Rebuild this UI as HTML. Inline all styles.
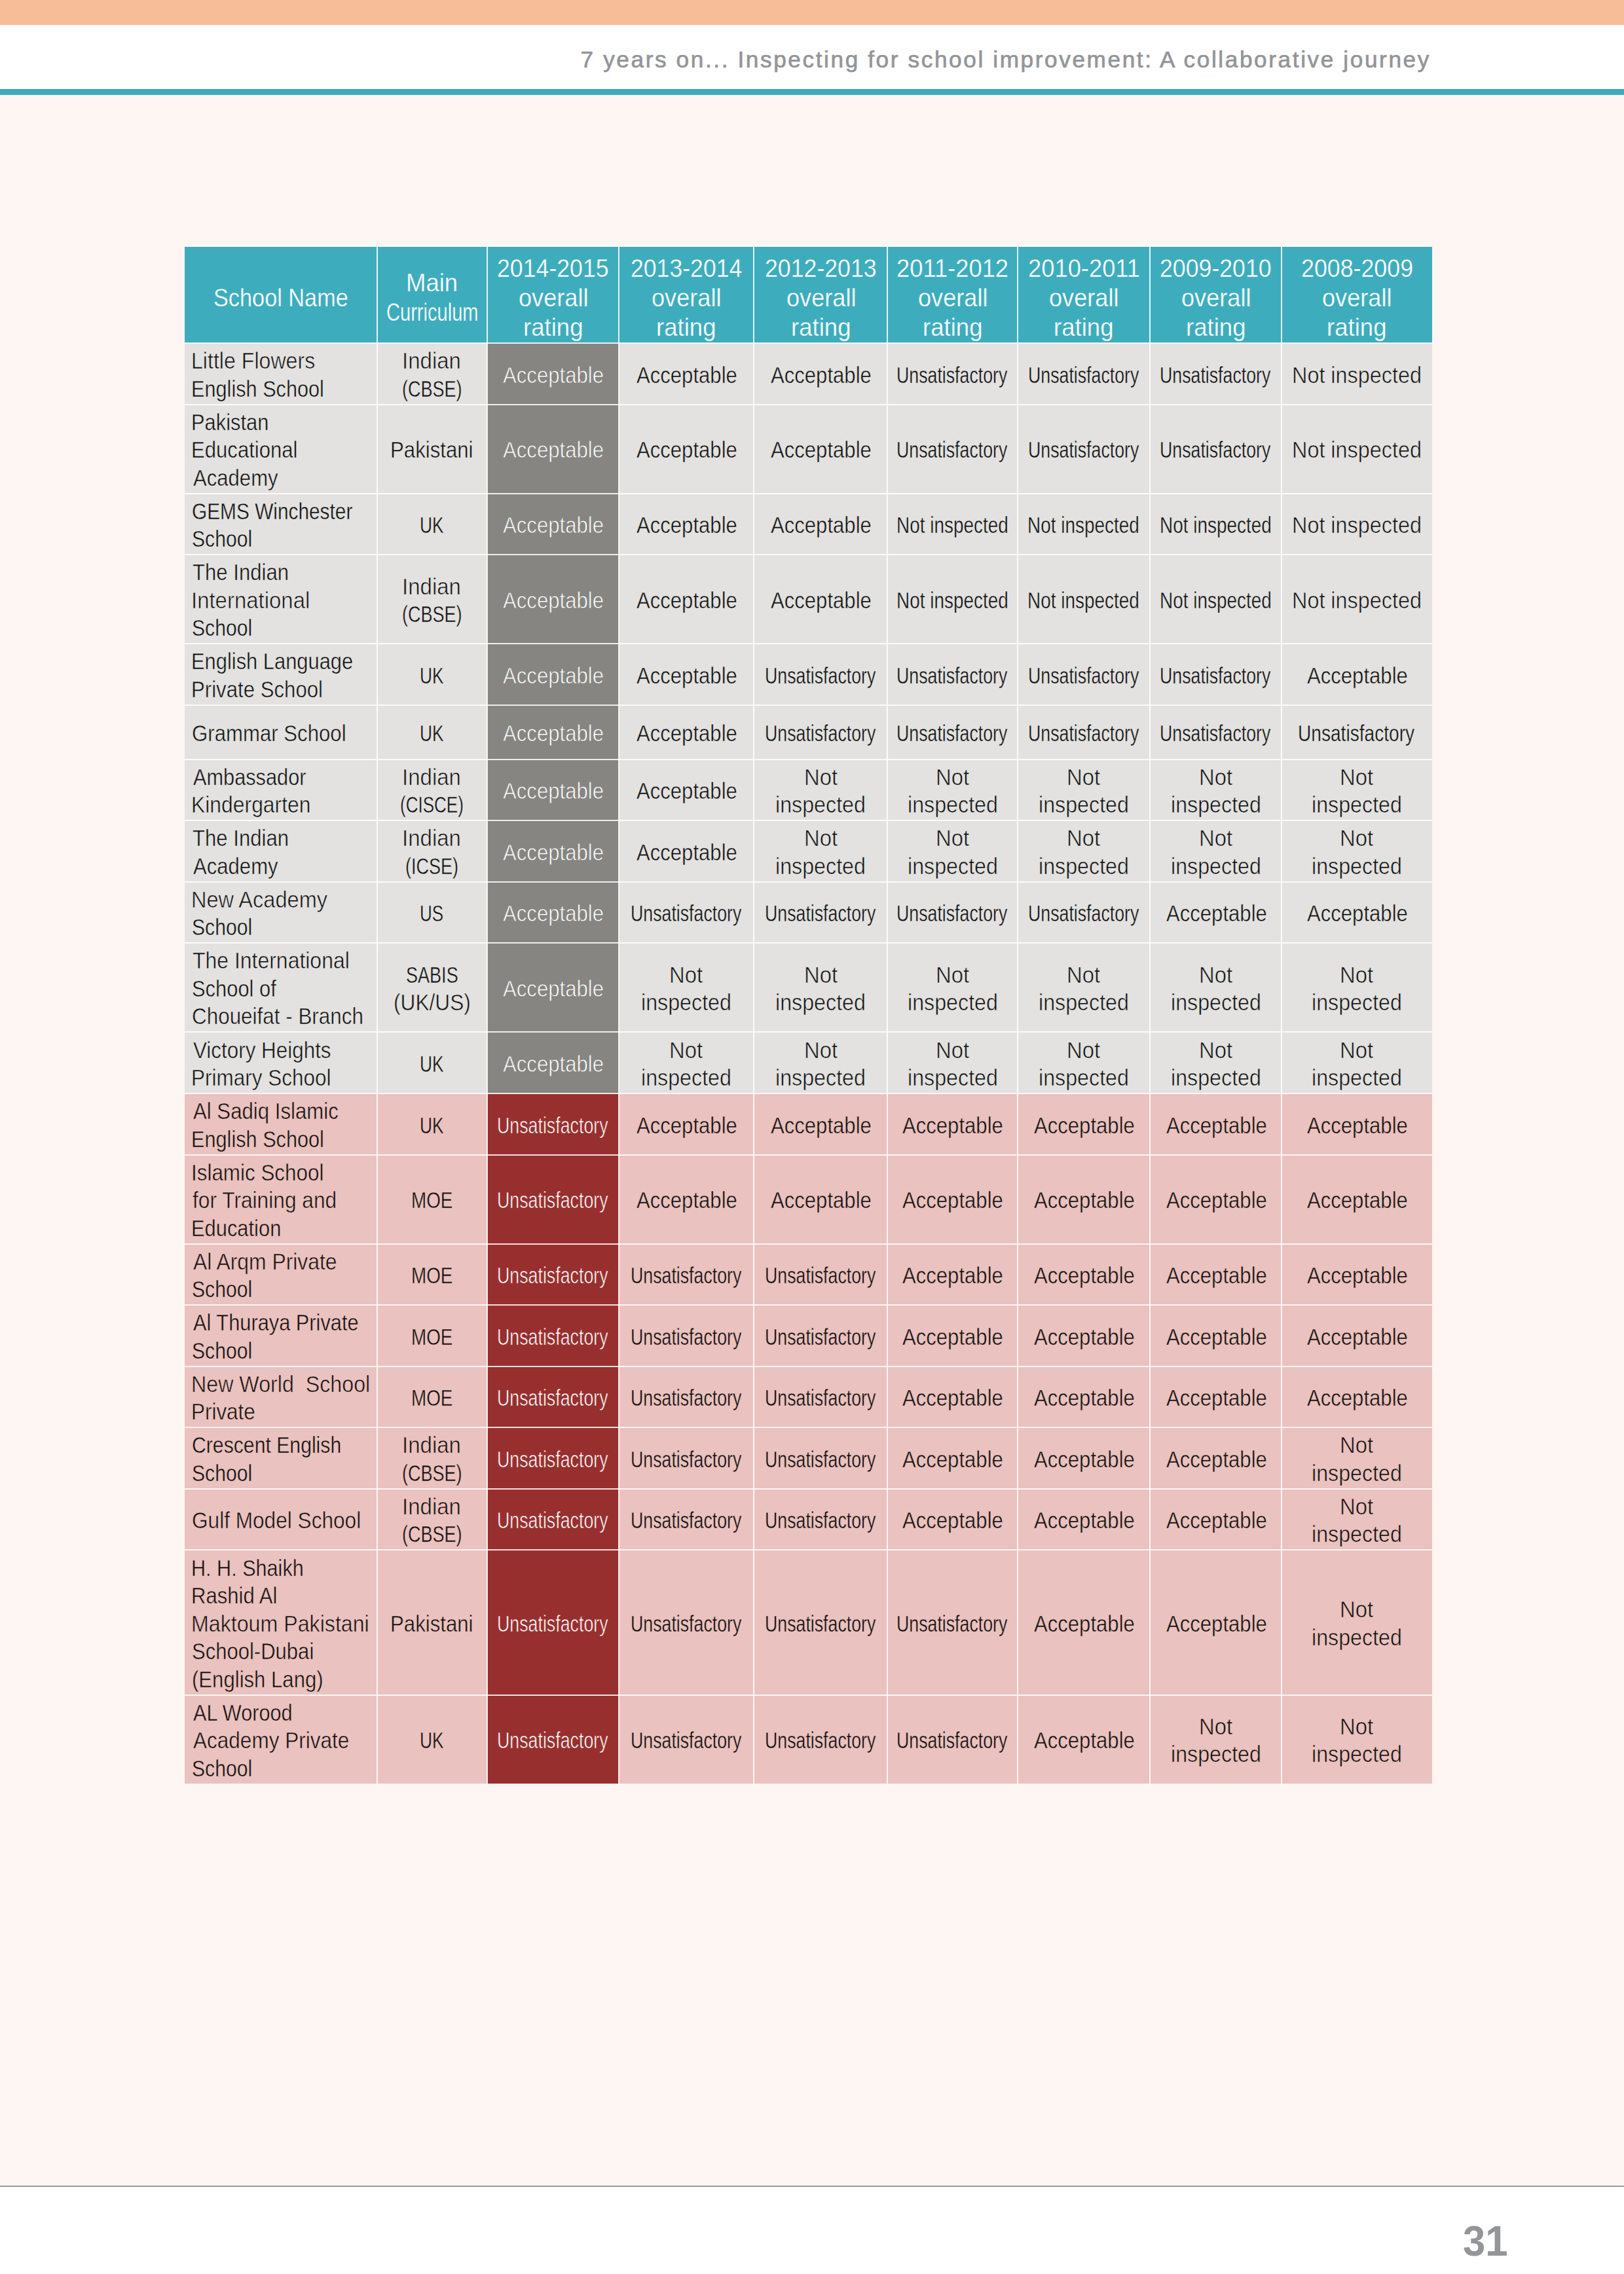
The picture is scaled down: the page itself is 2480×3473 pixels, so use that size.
<!DOCTYPE html><html lang="en"><head><meta charset="utf-8"><title>Page 31</title><style>
html,body{margin:0;padding:0;overflow:hidden}
body{width:2480px;height:3473px;position:relative;overflow:hidden;background:#fef6f3;font-family:"Liberation Sans",sans-serif;color:#121212}
.top{position:absolute;left:0;top:0;width:100%;height:37.7px;background:#f7bc98}
.hd{position:absolute;left:0;top:37.7px;width:100%;height:98.5px;background:#fff}
.rule{position:absolute;left:0;top:136.2px;width:100%;height:8.4px;background:#3dacbc}
.ft{position:absolute;left:0;top:3339.5px;width:100%;height:140px;background:#fff}
.fl{position:absolute;left:0;top:3338px;width:100%;height:1.6px;background:#9a9a9c}
.c{position:absolute;box-sizing:border-box}
.h{background:#3dadbd;color:#fff;-webkit-text-stroke:0.3px #3dadbd}
.g{background:#e3e2e0;-webkit-text-stroke:1.0px #e3e2e0} .gd{background:#868581;color:#fff;-webkit-text-stroke:1.0px #868581}
.p{background:#eac2bf;-webkit-text-stroke:1.0px #eac2bf} .pd{background:#982f2f;color:#fff;-webkit-text-stroke:1.0px #982f2f}
.t{position:absolute;white-space:pre;display:block;transform-origin:0 0;font-size:35.9px;line-height:42.5px}
.h .t{font-size:38.5px;line-height:45.0px}
.ln{position:absolute;background:#fff;opacity:.85}
.title{position:absolute;white-space:pre;color:#939598;transform-origin:0 0}
.pn{position:absolute;white-space:pre;color:#939598;font-weight:bold;transform-origin:0 0}
</style></head><body><div class="top"></div><div class="hd"></div><div class="rule"></div><div class="title" style="left:886.59px;top:70.08px;font-size:35.2px;line-height:42.24px;letter-spacing:2.603px;-webkit-text-stroke:0.7px #939598">7 years on... Inspecting for school improvement: A collaborative journey</div><div class="tbl"><div class="c h" style="left:281.5px;top:376.5px;width:294.0px;height:147.5px"><span class="t" style="top:55.41px;left:44.55px;transform:scaleX(0.8904);-webkit-text-stroke-width:0.30px">School Name</span></div>
<div class="c h" style="left:575.5px;top:376.5px;width:168.0px;height:147.5px"><span class="t" style="top:32.91px;left:44.49px;transform:scaleX(0.9486);-webkit-text-stroke-width:0.30px">Main</span><span class="t" style="top:77.91px;left:14.43px;transform:scaleX(0.7550);-webkit-text-stroke-width:0.30px">Curriculum</span></div>
<div class="c h" style="left:743.5px;top:376.5px;width:201.0px;height:147.5px"><span class="t" style="top:10.41px;left:15.43px;transform:scaleX(0.9269);-webkit-text-stroke-width:0.30px">2014-2015</span><span class="t" style="top:55.41px;left:48.16px;transform:scaleX(0.9388);-webkit-text-stroke-width:0.30px">overall</span><span class="t" style="top:100.41px;left:55.16px;transform:scaleX(0.9505);-webkit-text-stroke-width:0.30px">rating</span></div>
<div class="c h" style="left:944.5px;top:376.5px;width:206.5px;height:147.5px"><span class="t" style="top:10.41px;left:18.18px;transform:scaleX(0.9249);-webkit-text-stroke-width:0.30px">2013-2014</span><span class="t" style="top:55.41px;left:50.91px;transform:scaleX(0.9388);-webkit-text-stroke-width:0.30px">overall</span><span class="t" style="top:100.41px;left:57.91px;transform:scaleX(0.9505);-webkit-text-stroke-width:0.30px">rating</span></div>
<div class="c h" style="left:1151px;top:376.5px;width:204px;height:147.5px"><span class="t" style="top:10.41px;left:16.93px;transform:scaleX(0.9269);-webkit-text-stroke-width:0.30px">2012-2013</span><span class="t" style="top:55.41px;left:49.66px;transform:scaleX(0.9388);-webkit-text-stroke-width:0.30px">overall</span><span class="t" style="top:100.41px;left:56.66px;transform:scaleX(0.9505);-webkit-text-stroke-width:0.30px">rating</span></div>
<div class="c h" style="left:1355px;top:376.5px;width:198.5px;height:147.5px"><span class="t" style="top:10.41px;left:14.14px;transform:scaleX(0.9438);-webkit-text-stroke-width:0.30px">2011-2012</span><span class="t" style="top:55.41px;left:46.91px;transform:scaleX(0.9388);-webkit-text-stroke-width:0.30px">overall</span><span class="t" style="top:100.41px;left:53.91px;transform:scaleX(0.9505);-webkit-text-stroke-width:0.30px">rating</span></div>
<div class="c h" style="left:1553.5px;top:376.5px;width:202.5px;height:147.5px"><span class="t" style="top:10.41px;left:16.14px;transform:scaleX(0.9438);-webkit-text-stroke-width:0.30px">2010-2011</span><span class="t" style="top:55.41px;left:48.91px;transform:scaleX(0.9388);-webkit-text-stroke-width:0.30px">overall</span><span class="t" style="top:100.41px;left:55.91px;transform:scaleX(0.9505);-webkit-text-stroke-width:0.30px">rating</span></div>
<div class="c h" style="left:1756px;top:376.5px;width:201px;height:147.5px"><span class="t" style="top:10.41px;left:15.43px;transform:scaleX(0.9269);-webkit-text-stroke-width:0.30px">2009-2010</span><span class="t" style="top:55.41px;left:48.16px;transform:scaleX(0.9388);-webkit-text-stroke-width:0.30px">overall</span><span class="t" style="top:100.41px;left:55.16px;transform:scaleX(0.9505);-webkit-text-stroke-width:0.30px">rating</span></div>
<div class="c h" style="left:1957px;top:376.5px;width:229.5px;height:147.5px"><span class="t" style="top:10.41px;left:29.67px;transform:scaleX(0.9289);-webkit-text-stroke-width:0.30px">2008-2009</span><span class="t" style="top:55.41px;left:62.41px;transform:scaleX(0.9388);-webkit-text-stroke-width:0.30px">overall</span><span class="t" style="top:100.41px;left:69.41px;transform:scaleX(0.9505);-webkit-text-stroke-width:0.30px">rating</span></div>
<div class="c g" style="left:281.5px;top:524.0px;width:294.0px;height:93.5px"><span class="t" style="top:6.41px;left:10.46px;transform:scaleX(0.8950);-webkit-text-stroke-width:0.61px">Little Flowers</span><span class="t" style="top:48.91px;left:10.64px;transform:scaleX(0.8547);-webkit-text-stroke-width:0.48px">English School</span></div>
<div class="c g" style="left:575.5px;top:524.0px;width:168.0px;height:93.5px"><span class="t" style="top:6.41px;left:38.97px;transform:scaleX(0.9195);-webkit-text-stroke-width:0.67px">Indian</span><span class="t" style="top:48.91px;left:38.63px;transform:scaleX(0.7525);-webkit-text-stroke-width:0.40px">(CBSE)</span></div>
<div class="c gd" style="left:743.5px;top:524.0px;width:201.0px;height:93.5px"><span class="t" style="top:27.66px;left:24.50px;transform:scaleX(0.8677);-webkit-text-stroke-width:0.81px">Acceptable</span></div>
<div class="c g" style="left:944.5px;top:524.0px;width:206.5px;height:93.5px"><span class="t" style="top:27.66px;left:27.38px;transform:scaleX(0.8663);-webkit-text-stroke-width:0.51px">Acceptable</span></div>
<div class="c g" style="left:1151px;top:524.0px;width:204px;height:93.5px"><span class="t" style="top:27.66px;left:26.13px;transform:scaleX(0.8663);-webkit-text-stroke-width:0.51px">Acceptable</span></div>
<div class="c g" style="left:1355px;top:524.0px;width:198.5px;height:93.5px"><span class="t" style="top:27.66px;left:14.13px;transform:scaleX(0.7447);-webkit-text-stroke-width:0.40px">Unsatisfactory</span></div>
<div class="c g" style="left:1553.5px;top:524.0px;width:202.5px;height:93.5px"><span class="t" style="top:27.66px;left:16.13px;transform:scaleX(0.7447);-webkit-text-stroke-width:0.40px">Unsatisfactory</span></div>
<div class="c g" style="left:1756px;top:524.0px;width:201px;height:93.5px"><span class="t" style="top:27.66px;left:15.38px;transform:scaleX(0.7447);-webkit-text-stroke-width:0.40px">Unsatisfactory</span></div>
<div class="c g" style="left:1957px;top:524.0px;width:229.5px;height:93.5px"><span class="t" style="top:27.66px;left:15.88px;transform:scaleX(0.9019);-webkit-text-stroke-width:0.63px">Not inspected</span></div>
<div class="c g" style="left:281.5px;top:617.5px;width:294.0px;height:136.0px"><span class="t" style="top:6.41px;left:10.62px;transform:scaleX(0.8593);-webkit-text-stroke-width:0.49px">Pakistan</span><span class="t" style="top:48.91px;left:10.59px;transform:scaleX(0.8665);-webkit-text-stroke-width:0.51px">Educational</span><span class="t" style="top:91.41px;left:13.08px;transform:scaleX(0.8663);-webkit-text-stroke-width:0.51px">Academy</span></div>
<div class="c g" style="left:575.5px;top:617.5px;width:168.0px;height:136.0px"><span class="t" style="top:48.91px;left:20.93px;transform:scaleX(0.8690);-webkit-text-stroke-width:0.52px">Pakistani</span></div>
<div class="c gd" style="left:743.5px;top:617.5px;width:201.0px;height:136.0px"><span class="t" style="top:48.91px;left:24.50px;transform:scaleX(0.8677);-webkit-text-stroke-width:0.81px">Acceptable</span></div>
<div class="c g" style="left:944.5px;top:617.5px;width:206.5px;height:136.0px"><span class="t" style="top:48.91px;left:27.38px;transform:scaleX(0.8663);-webkit-text-stroke-width:0.51px">Acceptable</span></div>
<div class="c g" style="left:1151px;top:617.5px;width:204px;height:136.0px"><span class="t" style="top:48.91px;left:26.13px;transform:scaleX(0.8663);-webkit-text-stroke-width:0.51px">Acceptable</span></div>
<div class="c g" style="left:1355px;top:617.5px;width:198.5px;height:136.0px"><span class="t" style="top:48.91px;left:14.13px;transform:scaleX(0.7447);-webkit-text-stroke-width:0.40px">Unsatisfactory</span></div>
<div class="c g" style="left:1553.5px;top:617.5px;width:202.5px;height:136.0px"><span class="t" style="top:48.91px;left:16.13px;transform:scaleX(0.7447);-webkit-text-stroke-width:0.40px">Unsatisfactory</span></div>
<div class="c g" style="left:1756px;top:617.5px;width:201px;height:136.0px"><span class="t" style="top:48.91px;left:15.38px;transform:scaleX(0.7447);-webkit-text-stroke-width:0.40px">Unsatisfactory</span></div>
<div class="c g" style="left:1957px;top:617.5px;width:229.5px;height:136.0px"><span class="t" style="top:48.91px;left:15.88px;transform:scaleX(0.9019);-webkit-text-stroke-width:0.63px">Not inspected</span></div>
<div class="c g" style="left:281.5px;top:753.5px;width:294.0px;height:93.5px"><span class="t" style="top:6.41px;left:11.64px;transform:scaleX(0.8312);-webkit-text-stroke-width:0.41px">GEMS Winchester</span><span class="t" style="top:48.91px;left:11.92px;transform:scaleX(0.8394);-webkit-text-stroke-width:0.43px">School</span></div>
<div class="c g" style="left:575.5px;top:753.5px;width:168.0px;height:93.5px"><span class="t" style="top:27.66px;left:65.36px;transform:scaleX(0.7344);-webkit-text-stroke-width:0.40px">UK</span></div>
<div class="c gd" style="left:743.5px;top:753.5px;width:201.0px;height:93.5px"><span class="t" style="top:27.66px;left:24.50px;transform:scaleX(0.8677);-webkit-text-stroke-width:0.81px">Acceptable</span></div>
<div class="c g" style="left:944.5px;top:753.5px;width:206.5px;height:93.5px"><span class="t" style="top:27.66px;left:27.38px;transform:scaleX(0.8663);-webkit-text-stroke-width:0.51px">Acceptable</span></div>
<div class="c g" style="left:1151px;top:753.5px;width:204px;height:93.5px"><span class="t" style="top:27.66px;left:26.13px;transform:scaleX(0.8663);-webkit-text-stroke-width:0.51px">Acceptable</span></div>
<div class="c g" style="left:1355px;top:753.5px;width:198.5px;height:93.5px"><span class="t" style="top:27.66px;left:13.96px;transform:scaleX(0.7786);-webkit-text-stroke-width:0.40px">Not inspected</span></div>
<div class="c g" style="left:1553.5px;top:753.5px;width:202.5px;height:93.5px"><span class="t" style="top:27.66px;left:15.96px;transform:scaleX(0.7786);-webkit-text-stroke-width:0.40px">Not inspected</span></div>
<div class="c g" style="left:1756px;top:753.5px;width:201px;height:93.5px"><span class="t" style="top:27.66px;left:15.21px;transform:scaleX(0.7786);-webkit-text-stroke-width:0.40px">Not inspected</span></div>
<div class="c g" style="left:1957px;top:753.5px;width:229.5px;height:93.5px"><span class="t" style="top:27.66px;left:15.88px;transform:scaleX(0.9019);-webkit-text-stroke-width:0.63px">Not inspected</span></div>
<div class="c g" style="left:281.5px;top:847px;width:294.0px;height:136px"><span class="t" style="top:6.41px;left:12.45px;transform:scaleX(0.8666);-webkit-text-stroke-width:0.51px">The Indian</span><span class="t" style="top:48.91px;left:10.02px;transform:scaleX(0.9177);-webkit-text-stroke-width:0.68px">International</span><span class="t" style="top:91.41px;left:11.92px;transform:scaleX(0.8394);-webkit-text-stroke-width:0.43px">School</span></div>
<div class="c g" style="left:575.5px;top:847px;width:168.0px;height:136px"><span class="t" style="top:27.66px;left:38.97px;transform:scaleX(0.9195);-webkit-text-stroke-width:0.67px">Indian</span><span class="t" style="top:70.16px;left:38.63px;transform:scaleX(0.7525);-webkit-text-stroke-width:0.40px">(CBSE)</span></div>
<div class="c gd" style="left:743.5px;top:847px;width:201.0px;height:136px"><span class="t" style="top:48.91px;left:24.50px;transform:scaleX(0.8677);-webkit-text-stroke-width:0.81px">Acceptable</span></div>
<div class="c g" style="left:944.5px;top:847px;width:206.5px;height:136px"><span class="t" style="top:48.91px;left:27.38px;transform:scaleX(0.8663);-webkit-text-stroke-width:0.51px">Acceptable</span></div>
<div class="c g" style="left:1151px;top:847px;width:204px;height:136px"><span class="t" style="top:48.91px;left:26.13px;transform:scaleX(0.8663);-webkit-text-stroke-width:0.51px">Acceptable</span></div>
<div class="c g" style="left:1355px;top:847px;width:198.5px;height:136px"><span class="t" style="top:48.91px;left:13.96px;transform:scaleX(0.7786);-webkit-text-stroke-width:0.40px">Not inspected</span></div>
<div class="c g" style="left:1553.5px;top:847px;width:202.5px;height:136px"><span class="t" style="top:48.91px;left:15.96px;transform:scaleX(0.7786);-webkit-text-stroke-width:0.40px">Not inspected</span></div>
<div class="c g" style="left:1756px;top:847px;width:201px;height:136px"><span class="t" style="top:48.91px;left:15.21px;transform:scaleX(0.7786);-webkit-text-stroke-width:0.40px">Not inspected</span></div>
<div class="c g" style="left:1957px;top:847px;width:229.5px;height:136px"><span class="t" style="top:48.91px;left:15.88px;transform:scaleX(0.9019);-webkit-text-stroke-width:0.63px">Not inspected</span></div>
<div class="c g" style="left:281.5px;top:983px;width:294.0px;height:93.5px"><span class="t" style="top:6.41px;left:10.62px;transform:scaleX(0.8600);-webkit-text-stroke-width:0.50px">English Language</span><span class="t" style="top:48.91px;left:10.58px;transform:scaleX(0.8687);-webkit-text-stroke-width:0.52px">Private School</span></div>
<div class="c g" style="left:575.5px;top:983px;width:168.0px;height:93.5px"><span class="t" style="top:27.66px;left:65.36px;transform:scaleX(0.7344);-webkit-text-stroke-width:0.40px">UK</span></div>
<div class="c gd" style="left:743.5px;top:983px;width:201.0px;height:93.5px"><span class="t" style="top:27.66px;left:24.50px;transform:scaleX(0.8677);-webkit-text-stroke-width:0.81px">Acceptable</span></div>
<div class="c g" style="left:944.5px;top:983px;width:206.5px;height:93.5px"><span class="t" style="top:27.66px;left:27.38px;transform:scaleX(0.8663);-webkit-text-stroke-width:0.51px">Acceptable</span></div>
<div class="c g" style="left:1151px;top:983px;width:204px;height:93.5px"><span class="t" style="top:27.66px;left:16.88px;transform:scaleX(0.7447);-webkit-text-stroke-width:0.40px">Unsatisfactory</span></div>
<div class="c g" style="left:1355px;top:983px;width:198.5px;height:93.5px"><span class="t" style="top:27.66px;left:14.13px;transform:scaleX(0.7447);-webkit-text-stroke-width:0.40px">Unsatisfactory</span></div>
<div class="c g" style="left:1553.5px;top:983px;width:202.5px;height:93.5px"><span class="t" style="top:27.66px;left:16.13px;transform:scaleX(0.7447);-webkit-text-stroke-width:0.40px">Unsatisfactory</span></div>
<div class="c g" style="left:1756px;top:983px;width:201px;height:93.5px"><span class="t" style="top:27.66px;left:15.38px;transform:scaleX(0.7447);-webkit-text-stroke-width:0.40px">Unsatisfactory</span></div>
<div class="c g" style="left:1957px;top:983px;width:229.5px;height:93.5px"><span class="t" style="top:27.66px;left:38.88px;transform:scaleX(0.8663);-webkit-text-stroke-width:0.51px">Acceptable</span></div>
<div class="c g" style="left:281.5px;top:1076.5px;width:294.0px;height:83.0px"><span class="t" style="top:22.41px;left:11.51px;transform:scaleX(0.8685);-webkit-text-stroke-width:0.52px">Grammar School</span></div>
<div class="c g" style="left:575.5px;top:1076.5px;width:168.0px;height:83.0px"><span class="t" style="top:22.41px;left:65.36px;transform:scaleX(0.7344);-webkit-text-stroke-width:0.40px">UK</span></div>
<div class="c gd" style="left:743.5px;top:1076.5px;width:201.0px;height:83.0px"><span class="t" style="top:22.41px;left:24.50px;transform:scaleX(0.8677);-webkit-text-stroke-width:0.81px">Acceptable</span></div>
<div class="c g" style="left:944.5px;top:1076.5px;width:206.5px;height:83.0px"><span class="t" style="top:22.41px;left:27.38px;transform:scaleX(0.8663);-webkit-text-stroke-width:0.51px">Acceptable</span></div>
<div class="c g" style="left:1151px;top:1076.5px;width:204px;height:83.0px"><span class="t" style="top:22.41px;left:16.88px;transform:scaleX(0.7447);-webkit-text-stroke-width:0.40px">Unsatisfactory</span></div>
<div class="c g" style="left:1355px;top:1076.5px;width:198.5px;height:83.0px"><span class="t" style="top:22.41px;left:14.13px;transform:scaleX(0.7447);-webkit-text-stroke-width:0.40px">Unsatisfactory</span></div>
<div class="c g" style="left:1553.5px;top:1076.5px;width:202.5px;height:83.0px"><span class="t" style="top:22.41px;left:16.13px;transform:scaleX(0.7447);-webkit-text-stroke-width:0.40px">Unsatisfactory</span></div>
<div class="c g" style="left:1756px;top:1076.5px;width:201px;height:83.0px"><span class="t" style="top:22.41px;left:15.38px;transform:scaleX(0.7447);-webkit-text-stroke-width:0.40px">Unsatisfactory</span></div>
<div class="c g" style="left:1957px;top:1076.5px;width:229.5px;height:83.0px"><span class="t" style="top:22.41px;left:25.23px;transform:scaleX(0.7830);-webkit-text-stroke-width:0.40px">Unsatisfactory</span></div>
<div class="c g" style="left:281.5px;top:1159.5px;width:294.0px;height:93.5px"><span class="t" style="top:6.41px;left:13.09px;transform:scaleX(0.8560);-webkit-text-stroke-width:0.48px">Ambassador</span><span class="t" style="top:48.91px;left:10.49px;transform:scaleX(0.8881);-webkit-text-stroke-width:0.58px">Kindergarten</span></div>
<div class="c g" style="left:575.5px;top:1159.5px;width:168.0px;height:93.5px"><span class="t" style="top:6.41px;left:38.97px;transform:scaleX(0.9195);-webkit-text-stroke-width:0.67px">Indian</span><span class="t" style="top:48.91px;left:35.94px;transform:scaleX(0.7254);-webkit-text-stroke-width:0.40px">(CISCE)</span></div>
<div class="c gd" style="left:743.5px;top:1159.5px;width:201.0px;height:93.5px"><span class="t" style="top:27.66px;left:24.50px;transform:scaleX(0.8677);-webkit-text-stroke-width:0.81px">Acceptable</span></div>
<div class="c g" style="left:944.5px;top:1159.5px;width:206.5px;height:93.5px"><span class="t" style="top:27.66px;left:27.38px;transform:scaleX(0.8663);-webkit-text-stroke-width:0.51px">Acceptable</span></div>
<div class="c g" style="left:1151px;top:1159.5px;width:204px;height:93.5px"><span class="t" style="top:6.41px;left:76.58px;transform:scaleX(0.9156);-webkit-text-stroke-width:0.64px">Not</span><span class="t" style="top:48.91px;left:33.44px;transform:scaleX(0.8979);-webkit-text-stroke-width:0.61px">inspected</span></div>
<div class="c g" style="left:1355px;top:1159.5px;width:198.5px;height:93.5px"><span class="t" style="top:6.41px;left:73.83px;transform:scaleX(0.9156);-webkit-text-stroke-width:0.64px">Not</span><span class="t" style="top:48.91px;left:30.69px;transform:scaleX(0.8979);-webkit-text-stroke-width:0.61px">inspected</span></div>
<div class="c g" style="left:1553.5px;top:1159.5px;width:202.5px;height:93.5px"><span class="t" style="top:6.41px;left:75.83px;transform:scaleX(0.9156);-webkit-text-stroke-width:0.64px">Not</span><span class="t" style="top:48.91px;left:32.69px;transform:scaleX(0.8979);-webkit-text-stroke-width:0.61px">inspected</span></div>
<div class="c g" style="left:1756px;top:1159.5px;width:201px;height:93.5px"><span class="t" style="top:6.41px;left:75.08px;transform:scaleX(0.9156);-webkit-text-stroke-width:0.64px">Not</span><span class="t" style="top:48.91px;left:31.94px;transform:scaleX(0.8979);-webkit-text-stroke-width:0.61px">inspected</span></div>
<div class="c g" style="left:1957px;top:1159.5px;width:229.5px;height:93.5px"><span class="t" style="top:6.41px;left:89.33px;transform:scaleX(0.9156);-webkit-text-stroke-width:0.64px">Not</span><span class="t" style="top:48.91px;left:46.19px;transform:scaleX(0.8979);-webkit-text-stroke-width:0.61px">inspected</span></div>
<div class="c g" style="left:281.5px;top:1253px;width:294.0px;height:93.5px"><span class="t" style="top:6.41px;left:12.45px;transform:scaleX(0.8666);-webkit-text-stroke-width:0.51px">The Indian</span><span class="t" style="top:48.91px;left:13.08px;transform:scaleX(0.8663);-webkit-text-stroke-width:0.51px">Academy</span></div>
<div class="c g" style="left:575.5px;top:1253px;width:168.0px;height:93.5px"><span class="t" style="top:6.41px;left:38.97px;transform:scaleX(0.9195);-webkit-text-stroke-width:0.67px">Indian</span><span class="t" style="top:48.91px;left:43.88px;transform:scaleX(0.7526);-webkit-text-stroke-width:0.40px">(ICSE)</span></div>
<div class="c gd" style="left:743.5px;top:1253px;width:201.0px;height:93.5px"><span class="t" style="top:27.66px;left:24.50px;transform:scaleX(0.8677);-webkit-text-stroke-width:0.81px">Acceptable</span></div>
<div class="c g" style="left:944.5px;top:1253px;width:206.5px;height:93.5px"><span class="t" style="top:27.66px;left:27.38px;transform:scaleX(0.8663);-webkit-text-stroke-width:0.51px">Acceptable</span></div>
<div class="c g" style="left:1151px;top:1253px;width:204px;height:93.5px"><span class="t" style="top:6.41px;left:76.58px;transform:scaleX(0.9156);-webkit-text-stroke-width:0.64px">Not</span><span class="t" style="top:48.91px;left:33.44px;transform:scaleX(0.8979);-webkit-text-stroke-width:0.61px">inspected</span></div>
<div class="c g" style="left:1355px;top:1253px;width:198.5px;height:93.5px"><span class="t" style="top:6.41px;left:73.83px;transform:scaleX(0.9156);-webkit-text-stroke-width:0.64px">Not</span><span class="t" style="top:48.91px;left:30.69px;transform:scaleX(0.8979);-webkit-text-stroke-width:0.61px">inspected</span></div>
<div class="c g" style="left:1553.5px;top:1253px;width:202.5px;height:93.5px"><span class="t" style="top:6.41px;left:75.83px;transform:scaleX(0.9156);-webkit-text-stroke-width:0.64px">Not</span><span class="t" style="top:48.91px;left:32.69px;transform:scaleX(0.8979);-webkit-text-stroke-width:0.61px">inspected</span></div>
<div class="c g" style="left:1756px;top:1253px;width:201px;height:93.5px"><span class="t" style="top:6.41px;left:75.08px;transform:scaleX(0.9156);-webkit-text-stroke-width:0.64px">Not</span><span class="t" style="top:48.91px;left:31.94px;transform:scaleX(0.8979);-webkit-text-stroke-width:0.61px">inspected</span></div>
<div class="c g" style="left:1957px;top:1253px;width:229.5px;height:93.5px"><span class="t" style="top:6.41px;left:89.33px;transform:scaleX(0.9156);-webkit-text-stroke-width:0.64px">Not</span><span class="t" style="top:48.91px;left:46.19px;transform:scaleX(0.8979);-webkit-text-stroke-width:0.61px">inspected</span></div>
<div class="c g" style="left:281.5px;top:1346.5px;width:294.0px;height:93.5px"><span class="t" style="top:6.41px;left:10.40px;transform:scaleX(0.9069);-webkit-text-stroke-width:0.64px">New Academy</span><span class="t" style="top:48.91px;left:11.92px;transform:scaleX(0.8394);-webkit-text-stroke-width:0.43px">School</span></div>
<div class="c g" style="left:575.5px;top:1346.5px;width:168.0px;height:93.5px"><span class="t" style="top:27.66px;left:65.98px;transform:scaleX(0.7254);-webkit-text-stroke-width:0.40px">US</span></div>
<div class="c gd" style="left:743.5px;top:1346.5px;width:201.0px;height:93.5px"><span class="t" style="top:27.66px;left:24.50px;transform:scaleX(0.8677);-webkit-text-stroke-width:0.81px">Acceptable</span></div>
<div class="c g" style="left:944.5px;top:1346.5px;width:206.5px;height:93.5px"><span class="t" style="top:27.66px;left:18.13px;transform:scaleX(0.7447);-webkit-text-stroke-width:0.40px">Unsatisfactory</span></div>
<div class="c g" style="left:1151px;top:1346.5px;width:204px;height:93.5px"><span class="t" style="top:27.66px;left:16.88px;transform:scaleX(0.7447);-webkit-text-stroke-width:0.40px">Unsatisfactory</span></div>
<div class="c g" style="left:1355px;top:1346.5px;width:198.5px;height:93.5px"><span class="t" style="top:27.66px;left:14.13px;transform:scaleX(0.7447);-webkit-text-stroke-width:0.40px">Unsatisfactory</span></div>
<div class="c g" style="left:1553.5px;top:1346.5px;width:202.5px;height:93.5px"><span class="t" style="top:27.66px;left:16.13px;transform:scaleX(0.7447);-webkit-text-stroke-width:0.40px">Unsatisfactory</span></div>
<div class="c g" style="left:1756px;top:1346.5px;width:201px;height:93.5px"><span class="t" style="top:27.66px;left:24.63px;transform:scaleX(0.8663);-webkit-text-stroke-width:0.51px">Acceptable</span></div>
<div class="c g" style="left:1957px;top:1346.5px;width:229.5px;height:93.5px"><span class="t" style="top:27.66px;left:38.88px;transform:scaleX(0.8663);-webkit-text-stroke-width:0.51px">Acceptable</span></div>
<div class="c g" style="left:281.5px;top:1440px;width:294.0px;height:136px"><span class="t" style="top:6.41px;left:12.40px;transform:scaleX(0.8902);-webkit-text-stroke-width:0.59px">The International</span><span class="t" style="top:48.91px;left:11.85px;transform:scaleX(0.8604);-webkit-text-stroke-width:0.49px">School of</span><span class="t" style="top:91.41px;left:11.49px;transform:scaleX(0.8753);-webkit-text-stroke-width:0.55px">Choueifat - Branch</span></div>
<div class="c g" style="left:575.5px;top:1440px;width:168.0px;height:136px"><span class="t" style="top:27.66px;left:44.62px;transform:scaleX(0.7535);-webkit-text-stroke-width:0.40px">SABIS</span><span class="t" style="top:70.16px;left:25.45px;transform:scaleX(0.8821);-webkit-text-stroke-width:0.56px">(UK/US)</span></div>
<div class="c gd" style="left:743.5px;top:1440px;width:201.0px;height:136px"><span class="t" style="top:48.91px;left:24.50px;transform:scaleX(0.8677);-webkit-text-stroke-width:0.81px">Acceptable</span></div>
<div class="c g" style="left:944.5px;top:1440px;width:206.5px;height:136px"><span class="t" style="top:27.66px;left:77.83px;transform:scaleX(0.9156);-webkit-text-stroke-width:0.64px">Not</span><span class="t" style="top:70.16px;left:34.69px;transform:scaleX(0.8979);-webkit-text-stroke-width:0.61px">inspected</span></div>
<div class="c g" style="left:1151px;top:1440px;width:204px;height:136px"><span class="t" style="top:27.66px;left:76.58px;transform:scaleX(0.9156);-webkit-text-stroke-width:0.64px">Not</span><span class="t" style="top:70.16px;left:33.44px;transform:scaleX(0.8979);-webkit-text-stroke-width:0.61px">inspected</span></div>
<div class="c g" style="left:1355px;top:1440px;width:198.5px;height:136px"><span class="t" style="top:27.66px;left:73.83px;transform:scaleX(0.9156);-webkit-text-stroke-width:0.64px">Not</span><span class="t" style="top:70.16px;left:30.69px;transform:scaleX(0.8979);-webkit-text-stroke-width:0.61px">inspected</span></div>
<div class="c g" style="left:1553.5px;top:1440px;width:202.5px;height:136px"><span class="t" style="top:27.66px;left:75.83px;transform:scaleX(0.9156);-webkit-text-stroke-width:0.64px">Not</span><span class="t" style="top:70.16px;left:32.69px;transform:scaleX(0.8979);-webkit-text-stroke-width:0.61px">inspected</span></div>
<div class="c g" style="left:1756px;top:1440px;width:201px;height:136px"><span class="t" style="top:27.66px;left:75.08px;transform:scaleX(0.9156);-webkit-text-stroke-width:0.64px">Not</span><span class="t" style="top:70.16px;left:31.94px;transform:scaleX(0.8979);-webkit-text-stroke-width:0.61px">inspected</span></div>
<div class="c g" style="left:1957px;top:1440px;width:229.5px;height:136px"><span class="t" style="top:27.66px;left:89.33px;transform:scaleX(0.9156);-webkit-text-stroke-width:0.64px">Not</span><span class="t" style="top:70.16px;left:46.19px;transform:scaleX(0.8979);-webkit-text-stroke-width:0.61px">inspected</span></div>
<div class="c g" style="left:281.5px;top:1576px;width:294.0px;height:94px"><span class="t" style="top:6.66px;left:13.06px;transform:scaleX(0.8748);-webkit-text-stroke-width:0.54px">Victory Heights</span><span class="t" style="top:49.16px;left:10.54px;transform:scaleX(0.8779);-webkit-text-stroke-width:0.55px">Primary School</span></div>
<div class="c g" style="left:575.5px;top:1576px;width:168.0px;height:94px"><span class="t" style="top:27.91px;left:65.36px;transform:scaleX(0.7344);-webkit-text-stroke-width:0.40px">UK</span></div>
<div class="c gd" style="left:743.5px;top:1576px;width:201.0px;height:94px"><span class="t" style="top:27.91px;left:24.50px;transform:scaleX(0.8677);-webkit-text-stroke-width:0.81px">Acceptable</span></div>
<div class="c g" style="left:944.5px;top:1576px;width:206.5px;height:94px"><span class="t" style="top:6.66px;left:77.83px;transform:scaleX(0.9156);-webkit-text-stroke-width:0.64px">Not</span><span class="t" style="top:49.16px;left:34.69px;transform:scaleX(0.8979);-webkit-text-stroke-width:0.61px">inspected</span></div>
<div class="c g" style="left:1151px;top:1576px;width:204px;height:94px"><span class="t" style="top:6.66px;left:76.58px;transform:scaleX(0.9156);-webkit-text-stroke-width:0.64px">Not</span><span class="t" style="top:49.16px;left:33.44px;transform:scaleX(0.8979);-webkit-text-stroke-width:0.61px">inspected</span></div>
<div class="c g" style="left:1355px;top:1576px;width:198.5px;height:94px"><span class="t" style="top:6.66px;left:73.83px;transform:scaleX(0.9156);-webkit-text-stroke-width:0.64px">Not</span><span class="t" style="top:49.16px;left:30.69px;transform:scaleX(0.8979);-webkit-text-stroke-width:0.61px">inspected</span></div>
<div class="c g" style="left:1553.5px;top:1576px;width:202.5px;height:94px"><span class="t" style="top:6.66px;left:75.83px;transform:scaleX(0.9156);-webkit-text-stroke-width:0.64px">Not</span><span class="t" style="top:49.16px;left:32.69px;transform:scaleX(0.8979);-webkit-text-stroke-width:0.61px">inspected</span></div>
<div class="c g" style="left:1756px;top:1576px;width:201px;height:94px"><span class="t" style="top:6.66px;left:75.08px;transform:scaleX(0.9156);-webkit-text-stroke-width:0.64px">Not</span><span class="t" style="top:49.16px;left:31.94px;transform:scaleX(0.8979);-webkit-text-stroke-width:0.61px">inspected</span></div>
<div class="c g" style="left:1957px;top:1576px;width:229.5px;height:94px"><span class="t" style="top:6.66px;left:89.33px;transform:scaleX(0.9156);-webkit-text-stroke-width:0.64px">Not</span><span class="t" style="top:49.16px;left:46.19px;transform:scaleX(0.8979);-webkit-text-stroke-width:0.61px">inspected</span></div>
<div class="c p" style="left:281.5px;top:1670px;width:294.0px;height:93.5px"><span class="t" style="top:6.41px;left:13.07px;transform:scaleX(0.8684);-webkit-text-stroke-width:0.52px">Al Sadiq Islamic</span><span class="t" style="top:48.91px;left:10.64px;transform:scaleX(0.8547);-webkit-text-stroke-width:0.48px">English School</span></div>
<div class="c p" style="left:575.5px;top:1670px;width:168.0px;height:93.5px"><span class="t" style="top:27.66px;left:65.36px;transform:scaleX(0.7344);-webkit-text-stroke-width:0.40px">UK</span></div>
<div class="c pd" style="left:743.5px;top:1670px;width:201.0px;height:93.5px"><span class="t" style="top:27.66px;left:15.27px;transform:scaleX(0.7457);-webkit-text-stroke-width:0.70px">Unsatisfactory</span></div>
<div class="c p" style="left:944.5px;top:1670px;width:206.5px;height:93.5px"><span class="t" style="top:27.66px;left:27.38px;transform:scaleX(0.8663);-webkit-text-stroke-width:0.51px">Acceptable</span></div>
<div class="c p" style="left:1151px;top:1670px;width:204px;height:93.5px"><span class="t" style="top:27.66px;left:26.13px;transform:scaleX(0.8663);-webkit-text-stroke-width:0.51px">Acceptable</span></div>
<div class="c p" style="left:1355px;top:1670px;width:198.5px;height:93.5px"><span class="t" style="top:27.66px;left:23.38px;transform:scaleX(0.8663);-webkit-text-stroke-width:0.51px">Acceptable</span></div>
<div class="c p" style="left:1553.5px;top:1670px;width:202.5px;height:93.5px"><span class="t" style="top:27.66px;left:25.38px;transform:scaleX(0.8663);-webkit-text-stroke-width:0.51px">Acceptable</span></div>
<div class="c p" style="left:1756px;top:1670px;width:201px;height:93.5px"><span class="t" style="top:27.66px;left:24.63px;transform:scaleX(0.8663);-webkit-text-stroke-width:0.51px">Acceptable</span></div>
<div class="c p" style="left:1957px;top:1670px;width:229.5px;height:93.5px"><span class="t" style="top:27.66px;left:38.88px;transform:scaleX(0.8663);-webkit-text-stroke-width:0.51px">Acceptable</span></div>
<div class="c p" style="left:281.5px;top:1763.5px;width:294.0px;height:136.0px"><span class="t" style="top:6.41px;left:10.24px;transform:scaleX(0.8748);-webkit-text-stroke-width:0.54px">Islamic School</span><span class="t" style="top:48.91px;left:12.73px;transform:scaleX(0.8828);-webkit-text-stroke-width:0.57px">for Training and</span><span class="t" style="top:91.41px;left:10.62px;transform:scaleX(0.8601);-webkit-text-stroke-width:0.49px">Education</span></div>
<div class="c p" style="left:575.5px;top:1763.5px;width:168.0px;height:136.0px"><span class="t" style="top:48.91px;left:52.22px;transform:scaleX(0.7749);-webkit-text-stroke-width:0.40px">MOE</span></div>
<div class="c pd" style="left:743.5px;top:1763.5px;width:201.0px;height:136.0px"><span class="t" style="top:48.91px;left:15.27px;transform:scaleX(0.7457);-webkit-text-stroke-width:0.70px">Unsatisfactory</span></div>
<div class="c p" style="left:944.5px;top:1763.5px;width:206.5px;height:136.0px"><span class="t" style="top:48.91px;left:27.38px;transform:scaleX(0.8663);-webkit-text-stroke-width:0.51px">Acceptable</span></div>
<div class="c p" style="left:1151px;top:1763.5px;width:204px;height:136.0px"><span class="t" style="top:48.91px;left:26.13px;transform:scaleX(0.8663);-webkit-text-stroke-width:0.51px">Acceptable</span></div>
<div class="c p" style="left:1355px;top:1763.5px;width:198.5px;height:136.0px"><span class="t" style="top:48.91px;left:23.38px;transform:scaleX(0.8663);-webkit-text-stroke-width:0.51px">Acceptable</span></div>
<div class="c p" style="left:1553.5px;top:1763.5px;width:202.5px;height:136.0px"><span class="t" style="top:48.91px;left:25.38px;transform:scaleX(0.8663);-webkit-text-stroke-width:0.51px">Acceptable</span></div>
<div class="c p" style="left:1756px;top:1763.5px;width:201px;height:136.0px"><span class="t" style="top:48.91px;left:24.63px;transform:scaleX(0.8663);-webkit-text-stroke-width:0.51px">Acceptable</span></div>
<div class="c p" style="left:1957px;top:1763.5px;width:229.5px;height:136.0px"><span class="t" style="top:48.91px;left:38.88px;transform:scaleX(0.8663);-webkit-text-stroke-width:0.51px">Acceptable</span></div>
<div class="c p" style="left:281.5px;top:1899.5px;width:294.0px;height:93.5px"><span class="t" style="top:6.41px;left:13.04px;transform:scaleX(0.8877);-webkit-text-stroke-width:0.58px">Al Arqm Private</span><span class="t" style="top:48.91px;left:11.92px;transform:scaleX(0.8394);-webkit-text-stroke-width:0.43px">School</span></div>
<div class="c p" style="left:575.5px;top:1899.5px;width:168.0px;height:93.5px"><span class="t" style="top:27.66px;left:52.22px;transform:scaleX(0.7749);-webkit-text-stroke-width:0.40px">MOE</span></div>
<div class="c pd" style="left:743.5px;top:1899.5px;width:201.0px;height:93.5px"><span class="t" style="top:27.66px;left:15.27px;transform:scaleX(0.7457);-webkit-text-stroke-width:0.70px">Unsatisfactory</span></div>
<div class="c p" style="left:944.5px;top:1899.5px;width:206.5px;height:93.5px"><span class="t" style="top:27.66px;left:18.13px;transform:scaleX(0.7447);-webkit-text-stroke-width:0.40px">Unsatisfactory</span></div>
<div class="c p" style="left:1151px;top:1899.5px;width:204px;height:93.5px"><span class="t" style="top:27.66px;left:16.88px;transform:scaleX(0.7447);-webkit-text-stroke-width:0.40px">Unsatisfactory</span></div>
<div class="c p" style="left:1355px;top:1899.5px;width:198.5px;height:93.5px"><span class="t" style="top:27.66px;left:23.38px;transform:scaleX(0.8663);-webkit-text-stroke-width:0.51px">Acceptable</span></div>
<div class="c p" style="left:1553.5px;top:1899.5px;width:202.5px;height:93.5px"><span class="t" style="top:27.66px;left:25.38px;transform:scaleX(0.8663);-webkit-text-stroke-width:0.51px">Acceptable</span></div>
<div class="c p" style="left:1756px;top:1899.5px;width:201px;height:93.5px"><span class="t" style="top:27.66px;left:24.63px;transform:scaleX(0.8663);-webkit-text-stroke-width:0.51px">Acceptable</span></div>
<div class="c p" style="left:1957px;top:1899.5px;width:229.5px;height:93.5px"><span class="t" style="top:27.66px;left:38.88px;transform:scaleX(0.8663);-webkit-text-stroke-width:0.51px">Acceptable</span></div>
<div class="c p" style="left:281.5px;top:1993px;width:294.0px;height:93.5px"><span class="t" style="top:6.41px;left:13.09px;transform:scaleX(0.8575);-webkit-text-stroke-width:0.49px">Al Thuraya Private</span><span class="t" style="top:48.91px;left:11.92px;transform:scaleX(0.8394);-webkit-text-stroke-width:0.43px">School</span></div>
<div class="c p" style="left:575.5px;top:1993px;width:168.0px;height:93.5px"><span class="t" style="top:27.66px;left:52.22px;transform:scaleX(0.7749);-webkit-text-stroke-width:0.40px">MOE</span></div>
<div class="c pd" style="left:743.5px;top:1993px;width:201.0px;height:93.5px"><span class="t" style="top:27.66px;left:15.27px;transform:scaleX(0.7457);-webkit-text-stroke-width:0.70px">Unsatisfactory</span></div>
<div class="c p" style="left:944.5px;top:1993px;width:206.5px;height:93.5px"><span class="t" style="top:27.66px;left:18.13px;transform:scaleX(0.7447);-webkit-text-stroke-width:0.40px">Unsatisfactory</span></div>
<div class="c p" style="left:1151px;top:1993px;width:204px;height:93.5px"><span class="t" style="top:27.66px;left:16.88px;transform:scaleX(0.7447);-webkit-text-stroke-width:0.40px">Unsatisfactory</span></div>
<div class="c p" style="left:1355px;top:1993px;width:198.5px;height:93.5px"><span class="t" style="top:27.66px;left:23.38px;transform:scaleX(0.8663);-webkit-text-stroke-width:0.51px">Acceptable</span></div>
<div class="c p" style="left:1553.5px;top:1993px;width:202.5px;height:93.5px"><span class="t" style="top:27.66px;left:25.38px;transform:scaleX(0.8663);-webkit-text-stroke-width:0.51px">Acceptable</span></div>
<div class="c p" style="left:1756px;top:1993px;width:201px;height:93.5px"><span class="t" style="top:27.66px;left:24.63px;transform:scaleX(0.8663);-webkit-text-stroke-width:0.51px">Acceptable</span></div>
<div class="c p" style="left:1957px;top:1993px;width:229.5px;height:93.5px"><span class="t" style="top:27.66px;left:38.88px;transform:scaleX(0.8663);-webkit-text-stroke-width:0.51px">Acceptable</span></div>
<div class="c p" style="left:281.5px;top:2086.5px;width:294.0px;height:93.5px"><span class="t" style="top:6.41px;left:10.45px;transform:scaleX(0.8973);-webkit-text-stroke-width:0.62px">New World &nbsp;School</span><span class="t" style="top:48.91px;left:10.55px;transform:scaleX(0.8755);-webkit-text-stroke-width:0.54px">Private</span></div>
<div class="c p" style="left:575.5px;top:2086.5px;width:168.0px;height:93.5px"><span class="t" style="top:27.66px;left:52.22px;transform:scaleX(0.7749);-webkit-text-stroke-width:0.40px">MOE</span></div>
<div class="c pd" style="left:743.5px;top:2086.5px;width:201.0px;height:93.5px"><span class="t" style="top:27.66px;left:15.27px;transform:scaleX(0.7457);-webkit-text-stroke-width:0.70px">Unsatisfactory</span></div>
<div class="c p" style="left:944.5px;top:2086.5px;width:206.5px;height:93.5px"><span class="t" style="top:27.66px;left:18.13px;transform:scaleX(0.7447);-webkit-text-stroke-width:0.40px">Unsatisfactory</span></div>
<div class="c p" style="left:1151px;top:2086.5px;width:204px;height:93.5px"><span class="t" style="top:27.66px;left:16.88px;transform:scaleX(0.7447);-webkit-text-stroke-width:0.40px">Unsatisfactory</span></div>
<div class="c p" style="left:1355px;top:2086.5px;width:198.5px;height:93.5px"><span class="t" style="top:27.66px;left:23.38px;transform:scaleX(0.8663);-webkit-text-stroke-width:0.51px">Acceptable</span></div>
<div class="c p" style="left:1553.5px;top:2086.5px;width:202.5px;height:93.5px"><span class="t" style="top:27.66px;left:25.38px;transform:scaleX(0.8663);-webkit-text-stroke-width:0.51px">Acceptable</span></div>
<div class="c p" style="left:1756px;top:2086.5px;width:201px;height:93.5px"><span class="t" style="top:27.66px;left:24.63px;transform:scaleX(0.8663);-webkit-text-stroke-width:0.51px">Acceptable</span></div>
<div class="c p" style="left:1957px;top:2086.5px;width:229.5px;height:93.5px"><span class="t" style="top:27.66px;left:38.88px;transform:scaleX(0.8663);-webkit-text-stroke-width:0.51px">Acceptable</span></div>
<div class="c p" style="left:281.5px;top:2180px;width:294.0px;height:93.5px"><span class="t" style="top:6.41px;left:11.61px;transform:scaleX(0.8412);-webkit-text-stroke-width:0.44px">Crescent English</span><span class="t" style="top:48.91px;left:11.92px;transform:scaleX(0.8394);-webkit-text-stroke-width:0.43px">School</span></div>
<div class="c p" style="left:575.5px;top:2180px;width:168.0px;height:93.5px"><span class="t" style="top:6.41px;left:38.97px;transform:scaleX(0.9195);-webkit-text-stroke-width:0.67px">Indian</span><span class="t" style="top:48.91px;left:38.63px;transform:scaleX(0.7525);-webkit-text-stroke-width:0.40px">(CBSE)</span></div>
<div class="c pd" style="left:743.5px;top:2180px;width:201.0px;height:93.5px"><span class="t" style="top:27.66px;left:15.27px;transform:scaleX(0.7457);-webkit-text-stroke-width:0.70px">Unsatisfactory</span></div>
<div class="c p" style="left:944.5px;top:2180px;width:206.5px;height:93.5px"><span class="t" style="top:27.66px;left:18.13px;transform:scaleX(0.7447);-webkit-text-stroke-width:0.40px">Unsatisfactory</span></div>
<div class="c p" style="left:1151px;top:2180px;width:204px;height:93.5px"><span class="t" style="top:27.66px;left:16.88px;transform:scaleX(0.7447);-webkit-text-stroke-width:0.40px">Unsatisfactory</span></div>
<div class="c p" style="left:1355px;top:2180px;width:198.5px;height:93.5px"><span class="t" style="top:27.66px;left:23.38px;transform:scaleX(0.8663);-webkit-text-stroke-width:0.51px">Acceptable</span></div>
<div class="c p" style="left:1553.5px;top:2180px;width:202.5px;height:93.5px"><span class="t" style="top:27.66px;left:25.38px;transform:scaleX(0.8663);-webkit-text-stroke-width:0.51px">Acceptable</span></div>
<div class="c p" style="left:1756px;top:2180px;width:201px;height:93.5px"><span class="t" style="top:27.66px;left:24.63px;transform:scaleX(0.8663);-webkit-text-stroke-width:0.51px">Acceptable</span></div>
<div class="c p" style="left:1957px;top:2180px;width:229.5px;height:93.5px"><span class="t" style="top:6.41px;left:89.33px;transform:scaleX(0.9156);-webkit-text-stroke-width:0.64px">Not</span><span class="t" style="top:48.91px;left:46.19px;transform:scaleX(0.8979);-webkit-text-stroke-width:0.61px">inspected</span></div>
<div class="c p" style="left:281.5px;top:2273.5px;width:294.0px;height:93.5px"><span class="t" style="top:27.66px;left:11.47px;transform:scaleX(0.8804);-webkit-text-stroke-width:0.56px">Gulf Model School</span></div>
<div class="c p" style="left:575.5px;top:2273.5px;width:168.0px;height:93.5px"><span class="t" style="top:6.41px;left:38.97px;transform:scaleX(0.9195);-webkit-text-stroke-width:0.67px">Indian</span><span class="t" style="top:48.91px;left:38.63px;transform:scaleX(0.7525);-webkit-text-stroke-width:0.40px">(CBSE)</span></div>
<div class="c pd" style="left:743.5px;top:2273.5px;width:201.0px;height:93.5px"><span class="t" style="top:27.66px;left:15.27px;transform:scaleX(0.7457);-webkit-text-stroke-width:0.70px">Unsatisfactory</span></div>
<div class="c p" style="left:944.5px;top:2273.5px;width:206.5px;height:93.5px"><span class="t" style="top:27.66px;left:18.13px;transform:scaleX(0.7447);-webkit-text-stroke-width:0.40px">Unsatisfactory</span></div>
<div class="c p" style="left:1151px;top:2273.5px;width:204px;height:93.5px"><span class="t" style="top:27.66px;left:16.88px;transform:scaleX(0.7447);-webkit-text-stroke-width:0.40px">Unsatisfactory</span></div>
<div class="c p" style="left:1355px;top:2273.5px;width:198.5px;height:93.5px"><span class="t" style="top:27.66px;left:23.38px;transform:scaleX(0.8663);-webkit-text-stroke-width:0.51px">Acceptable</span></div>
<div class="c p" style="left:1553.5px;top:2273.5px;width:202.5px;height:93.5px"><span class="t" style="top:27.66px;left:25.38px;transform:scaleX(0.8663);-webkit-text-stroke-width:0.51px">Acceptable</span></div>
<div class="c p" style="left:1756px;top:2273.5px;width:201px;height:93.5px"><span class="t" style="top:27.66px;left:24.63px;transform:scaleX(0.8663);-webkit-text-stroke-width:0.51px">Acceptable</span></div>
<div class="c p" style="left:1957px;top:2273.5px;width:229.5px;height:93.5px"><span class="t" style="top:6.41px;left:89.33px;transform:scaleX(0.9156);-webkit-text-stroke-width:0.64px">Not</span><span class="t" style="top:48.91px;left:46.19px;transform:scaleX(0.8979);-webkit-text-stroke-width:0.61px">inspected</span></div>
<div class="c p" style="left:281.5px;top:2367px;width:294.0px;height:221.5px"><span class="t" style="top:6.66px;left:10.65px;transform:scaleX(0.8524);-webkit-text-stroke-width:0.47px">H. H. Shaikh</span><span class="t" style="top:49.16px;left:10.59px;transform:scaleX(0.8660);-webkit-text-stroke-width:0.51px">Rashid Al</span><span class="t" style="top:91.66px;left:10.45px;transform:scaleX(0.8963);-webkit-text-stroke-width:0.61px">Maktoum Pakistani</span><span class="t" style="top:134.16px;left:11.84px;transform:scaleX(0.8645);-webkit-text-stroke-width:0.51px">School-Dubai</span><span class="t" style="top:176.66px;left:11.21px;transform:scaleX(0.8668);-webkit-text-stroke-width:0.52px">(English Lang)</span></div>
<div class="c p" style="left:575.5px;top:2367px;width:168.0px;height:221.5px"><span class="t" style="top:91.66px;left:20.93px;transform:scaleX(0.8690);-webkit-text-stroke-width:0.52px">Pakistani</span></div>
<div class="c pd" style="left:743.5px;top:2367px;width:201.0px;height:221.5px"><span class="t" style="top:91.66px;left:15.27px;transform:scaleX(0.7457);-webkit-text-stroke-width:0.70px">Unsatisfactory</span></div>
<div class="c p" style="left:944.5px;top:2367px;width:206.5px;height:221.5px"><span class="t" style="top:91.66px;left:18.13px;transform:scaleX(0.7447);-webkit-text-stroke-width:0.40px">Unsatisfactory</span></div>
<div class="c p" style="left:1151px;top:2367px;width:204px;height:221.5px"><span class="t" style="top:91.66px;left:16.88px;transform:scaleX(0.7447);-webkit-text-stroke-width:0.40px">Unsatisfactory</span></div>
<div class="c p" style="left:1355px;top:2367px;width:198.5px;height:221.5px"><span class="t" style="top:91.66px;left:14.13px;transform:scaleX(0.7447);-webkit-text-stroke-width:0.40px">Unsatisfactory</span></div>
<div class="c p" style="left:1553.5px;top:2367px;width:202.5px;height:221.5px"><span class="t" style="top:91.66px;left:25.38px;transform:scaleX(0.8663);-webkit-text-stroke-width:0.51px">Acceptable</span></div>
<div class="c p" style="left:1756px;top:2367px;width:201px;height:221.5px"><span class="t" style="top:91.66px;left:24.63px;transform:scaleX(0.8663);-webkit-text-stroke-width:0.51px">Acceptable</span></div>
<div class="c p" style="left:1957px;top:2367px;width:229.5px;height:221.5px"><span class="t" style="top:70.41px;left:89.33px;transform:scaleX(0.9156);-webkit-text-stroke-width:0.64px">Not</span><span class="t" style="top:112.91px;left:46.19px;transform:scaleX(0.8979);-webkit-text-stroke-width:0.61px">inspected</span></div>
<div class="c p" style="left:281.5px;top:2588.5px;width:294.0px;height:135.5px"><span class="t" style="top:6.16px;left:13.10px;transform:scaleX(0.8541);-webkit-text-stroke-width:0.48px">AL Worood</span><span class="t" style="top:48.66px;left:13.06px;transform:scaleX(0.8783);-webkit-text-stroke-width:0.55px">Academy Private</span><span class="t" style="top:91.16px;left:11.92px;transform:scaleX(0.8394);-webkit-text-stroke-width:0.43px">School</span></div>
<div class="c p" style="left:575.5px;top:2588.5px;width:168.0px;height:135.5px"><span class="t" style="top:48.66px;left:65.36px;transform:scaleX(0.7344);-webkit-text-stroke-width:0.40px">UK</span></div>
<div class="c pd" style="left:743.5px;top:2588.5px;width:201.0px;height:135.5px"><span class="t" style="top:48.66px;left:15.27px;transform:scaleX(0.7457);-webkit-text-stroke-width:0.70px">Unsatisfactory</span></div>
<div class="c p" style="left:944.5px;top:2588.5px;width:206.5px;height:135.5px"><span class="t" style="top:48.66px;left:18.13px;transform:scaleX(0.7447);-webkit-text-stroke-width:0.40px">Unsatisfactory</span></div>
<div class="c p" style="left:1151px;top:2588.5px;width:204px;height:135.5px"><span class="t" style="top:48.66px;left:16.88px;transform:scaleX(0.7447);-webkit-text-stroke-width:0.40px">Unsatisfactory</span></div>
<div class="c p" style="left:1355px;top:2588.5px;width:198.5px;height:135.5px"><span class="t" style="top:48.66px;left:14.13px;transform:scaleX(0.7447);-webkit-text-stroke-width:0.40px">Unsatisfactory</span></div>
<div class="c p" style="left:1553.5px;top:2588.5px;width:202.5px;height:135.5px"><span class="t" style="top:48.66px;left:25.38px;transform:scaleX(0.8663);-webkit-text-stroke-width:0.51px">Acceptable</span></div>
<div class="c p" style="left:1756px;top:2588.5px;width:201px;height:135.5px"><span class="t" style="top:27.41px;left:75.08px;transform:scaleX(0.9156);-webkit-text-stroke-width:0.64px">Not</span><span class="t" style="top:69.91px;left:31.94px;transform:scaleX(0.8979);-webkit-text-stroke-width:0.61px">inspected</span></div>
<div class="c p" style="left:1957px;top:2588.5px;width:229.5px;height:135.5px"><span class="t" style="top:27.41px;left:89.33px;transform:scaleX(0.9156);-webkit-text-stroke-width:0.64px">Not</span><span class="t" style="top:69.91px;left:46.19px;transform:scaleX(0.8979);-webkit-text-stroke-width:0.61px">inspected</span></div>
<div class="ln" style="left:575.15px;top:376.5px;width:1.8px;height:2347.5px"></div>
<div class="ln" style="left:743.15px;top:376.5px;width:1.8px;height:2347.5px"></div>
<div class="ln" style="left:944.15px;top:376.5px;width:1.8px;height:2347.5px"></div>
<div class="ln" style="left:1150.15px;top:376.5px;width:1.8px;height:2347.5px"></div>
<div class="ln" style="left:1354.15px;top:376.5px;width:1.8px;height:2347.5px"></div>
<div class="ln" style="left:1553.15px;top:376.5px;width:1.8px;height:2347.5px"></div>
<div class="ln" style="left:1755.15px;top:376.5px;width:1.8px;height:2347.5px"></div>
<div class="ln" style="left:1956.15px;top:376.5px;width:1.8px;height:2347.5px"></div>
<div class="ln" style="left:281.5px;top:523.2px;height:1.7px;width:1905.0px"></div>
<div class="ln" style="left:281.5px;top:617.2px;height:1.7px;width:1905.0px"></div>
<div class="ln" style="left:281.5px;top:753.2px;height:1.7px;width:1905.0px"></div>
<div class="ln" style="left:281.5px;top:846.2px;height:1.7px;width:1905.0px"></div>
<div class="ln" style="left:281.5px;top:982.2px;height:1.7px;width:1905.0px"></div>
<div class="ln" style="left:281.5px;top:1076.2px;height:1.7px;width:1905.0px"></div>
<div class="ln" style="left:281.5px;top:1159.2px;height:1.7px;width:1905.0px"></div>
<div class="ln" style="left:281.5px;top:1252.2px;height:1.7px;width:1905.0px"></div>
<div class="ln" style="left:281.5px;top:1346.2px;height:1.7px;width:1905.0px"></div>
<div class="ln" style="left:281.5px;top:1439.2px;height:1.7px;width:1905.0px"></div>
<div class="ln" style="left:281.5px;top:1575.2px;height:1.7px;width:1905.0px"></div>
<div class="ln" style="left:281.5px;top:1669.2px;height:1.7px;width:1905.0px"></div>
<div class="ln" style="left:281.5px;top:1763.2px;height:1.7px;width:1905.0px"></div>
<div class="ln" style="left:281.5px;top:1899.2px;height:1.7px;width:1905.0px"></div>
<div class="ln" style="left:281.5px;top:1992.2px;height:1.7px;width:1905.0px"></div>
<div class="ln" style="left:281.5px;top:2086.2px;height:1.7px;width:1905.0px"></div>
<div class="ln" style="left:281.5px;top:2179.2px;height:1.7px;width:1905.0px"></div>
<div class="ln" style="left:281.5px;top:2273.2px;height:1.7px;width:1905.0px"></div>
<div class="ln" style="left:281.5px;top:2366.2px;height:1.7px;width:1905.0px"></div>
<div class="ln" style="left:281.5px;top:2588.2px;height:1.7px;width:1905.0px"></div></div><div class="ft"></div><div class="fl"></div><div class="pn" style="left:2234.17px;top:3384.38px;font-size:65px;line-height:78.0px;transform:scaleX(0.9495);">31</div></body></html>
